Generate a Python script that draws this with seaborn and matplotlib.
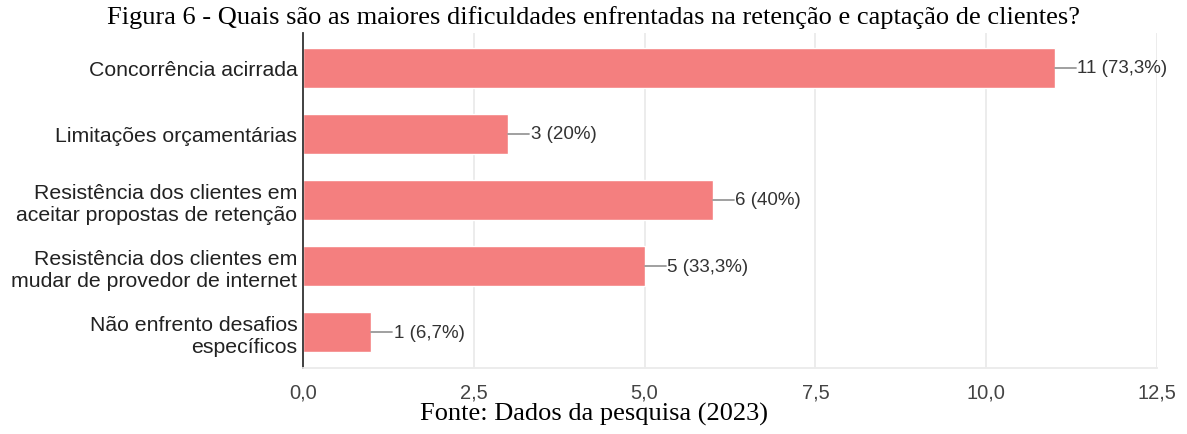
import matplotlib.pyplot as plt
import pandas as pd
import seaborn as sns

categorias = [
    "Concorrência acirrada",
    "Limitações orçamentárias",
    "Resistência dos clientes em\naceitar propostas de retenção",
    "Resistência dos clientes em\nmudar de provedor de internet",
    "Não enfrento desafios\nespecíficos",
]
respostas = [11, 3, 6, 5, 1]
rotulos = ["11 (73,3%)", "3 (20%)", "6 (40%)", "5 (33,3%)", "1 (6,7%)"]
ticks_x = [0, 2.5, 5, 7.5, 10, 12.5]
ticks_txt = ["0,0", "2,5", "5,0", "7,5", "10,0", "12,5"]

df = pd.DataFrame({"categoria": categorias, "n": respostas})

sns.set_style("white")
plt.rcParams["font.family"] = ["Liberation Sans", "DejaVu Sans"]

fig = plt.figure(figsize=(11.87, 4.35), dpi=100)
ax = fig.add_axes([303 / 1187, 1 - 368.5 / 435, (1157 - 303) / 1187, 335 / 435])

sns.barplot(data=df, x="n", y="categoria", color="#F47F7F", saturation=1,
            width=0.61, ax=ax)

# linha guia + rótulo de cada barra
for i, (v, t) in enumerate(zip(respostas, rotulos)):
    ax.plot([v, v + 0.31], [i, i], color="#999999", lw=1.3, zorder=3)
    ax.text(v + 0.33, i, t, va="center", ha="left", fontsize=13.5, color="#333333")

ax.set_xlim(0, 12.5)
ax.set_xticks(ticks_x)
ax.set_xticklabels(ticks_txt)
ax.tick_params(axis="x", length=0, pad=11, labelsize=14.5, labelcolor="#444444")
ax.tick_params(axis="y", length=0, pad=4, labelsize=15.3, labelcolor="#222222")
ax.grid(axis="x", color="#ebebeb", lw=1.3)
ax.set_axisbelow(True)
ax.set_xlabel("")
ax.set_ylabel("")
for s in ["top", "right"]:
    ax.spines[s].set_visible(False)
ax.spines["left"].set_color("#333333")
ax.spines["left"].set_linewidth(1.3)
ax.spines["bottom"].set_color("#ebebeb")
ax.spines["bottom"].set_linewidth(1.3)

fig.text(0.5, 1 - 18 / 435,
         "Figura 6 - Quais são as maiores dificuldades enfrentadas na retenção e captação de clientes?",
         ha="center", va="center", fontsize=19, family="Liberation Serif", color="black")
fig.text(0.5, 1 - 414 / 435, "Fonte: Dados da pesquisa (2023)",
         ha="center", va="center", fontsize=19, family="Liberation Serif", color="black")

fig.savefig("out.png", dpi=100)
